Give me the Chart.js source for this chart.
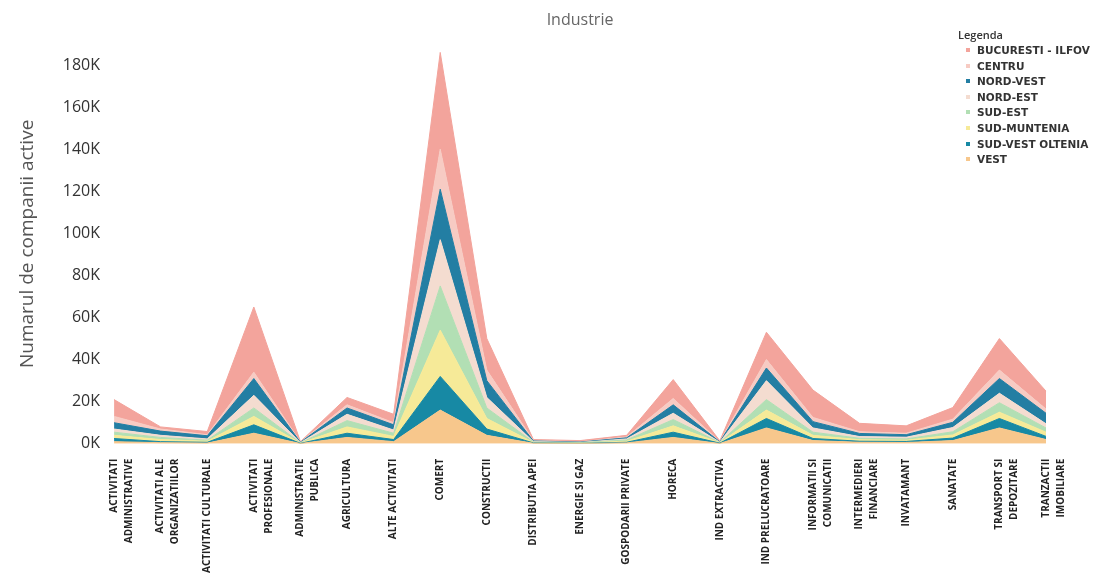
<!DOCTYPE html>
<html>
<head>
<meta charset="utf-8">
<script src="https://cdn.jsdelivr.net/npm/chart.js@4/dist/chart.umd.min.js"></script>
<style>
  body { margin: 0; background: #fff; }
  #wrap { position: relative; width: 1096px; height: 580px; }
  #legend {
    position: absolute; left: 958px; top: 26px;
    font-family: "DejaVu Sans", sans-serif; font-weight: bold; color: #333;
  }
  #legend .ttl { font-family: "Open Sans", sans-serif; font-size: 11px; font-weight: 600; height: 17px; line-height: 17px; }
  #legend .row { font-size: 10.5px; height: 15.6px; line-height: 15.6px; white-space: nowrap; }
  #legend .sw { display: inline-block; width: 4px; height: 4px; margin: 0 7px 2px 8px; vertical-align: middle; }
</style>
</head>
<body>
<div id="wrap">
  <canvas id="chart"></canvas>
  <div id="legend"></div>
</div>
<script>
const categories = [
  ['ACTIVITATI', 'ADMINISTRATIVE'],
  ['ACTIVITATI ALE', 'ORGANIZATIILOR'],
  'ACTIVITATI CULTURALE',
  ['ACTIVITATI', 'PROFESIONALE'],
  ['ADMINISTRATIE', 'PUBLICA'],
  'AGRICULTURA',
  'ALTE ACTIVITATI',
  'COMERT',
  'CONSTRUCTII',
  'DISTRIBUTIA APEI',
  'ENERGIE SI GAZ',
  'GOSPODARII PRIVATE',
  'HORECA',
  'IND EXTRACTIVA',
  'IND PRELUCRATOARE',
  ['INFORMATII SI', 'COMUNICATII'],
  ['INTERMEDIERI', 'FINANCIARE'],
  'INVATAMANT',
  'SANATATE',
  ['TRANSPORT SI', 'DEPOZITARE'],
  ['TRANZACTII', 'IMOBILIARE']
];

// stacked bottom to top
const vest        = [1000, 500, 300, 5000, 100, 3000, 1000, 16000, 4000, 200, 100, 400, 3000, 100, 7500, 1500, 700, 600, 1500, 7500, 2000];
const sudVest     = [1500, 500, 400, 4000, 100, 2000, 1000, 16000, 3000, 200, 100, 300, 2500, 200, 4500, 1000, 500, 500, 1200, 4500, 1500];
const sudMuntenia = [1500, 1000, 500, 4000, 100, 3000, 1500, 22000, 5000, 200, 150, 500, 3000, 200, 4000, 1500, 700, 600, 1500, 3000, 2000];
const sudEst      = [1500, 1000, 500, 4000, 100, 3000, 1500, 21000, 5000, 200, 150, 600, 3000, 100, 5000, 1500, 700, 600, 1500, 4500, 2000];
const nordEst     = [1500, 1000, 600, 6000, 100, 3000, 1500, 22000, 5000, 200, 100, 500, 3000, 100, 9000, 2000, 800, 800, 2000, 4500, 2000];
const nordVest    = [3000, 2000, 1500, 8000, 200, 3000, 2500, 24000, 8000, 300, 200, 500, 4000, 200, 6000, 3000, 1500, 1200, 2500, 7000, 5000];
const centru      = [3000, 1000, 500, 3000, 100, 1500, 1000, 19000, 5000, 200, 100, 400, 3000, 100, 4000, 2000, 800, 700, 1500, 4000, 2000];
const bucuresti   = [8000, 1000, 1500, 31000, 200, 3500, 4000, 46000, 15000, 500, 600, 800, 9000, 400, 13000, 13000, 4000, 3500, 5500, 15000, 8500];

const yTicks = [0, 20000, 40000, 60000, 80000, 100000, 120000, 140000, 160000, 180000];

const series = [
  { label: 'VEST', data: vest, color: '#f7c78c' },
  { label: 'SUD-VEST OLTENIA', data: sudVest, color: '#1789a4' },
  { label: 'SUD-MUNTENIA', data: sudMuntenia, color: '#f6ea98' },
  { label: 'SUD-EST', data: sudEst, color: '#b2dfb4' },
  { label: 'NORD-EST', data: nordEst, color: '#f4dcd0' },
  { label: 'NORD-VEST', data: nordVest, color: '#237ea3' },
  { label: 'CENTRU', data: centru, color: '#f7cbc3' },
  { label: 'BUCURESTI - ILFOV', data: bucuresti, color: '#f3a49c' }
];

// title centred over the plot area, not the whole canvas
const plotTitle = {
  id: 'plotTitle',
  afterDraw(c) {
    const a = c.chartArea;
    const g = c.ctx;
    g.save();
    g.font = '16px "Open Sans"';
    g.fillStyle = '#666';
    g.textAlign = 'center';
    g.textBaseline = 'middle';
    g.fillText('Industrie', (a.left + a.right) / 2, 20);
    g.restore();
  }
};

const ctx = document.getElementById('chart').getContext('2d');
const chart = new Chart(ctx, {
  type: 'line',
  data: {
    labels: categories,
    datasets: series.map((s, i) => ({
      label: s.label,
      data: s.data,
      backgroundColor: s.color,
      borderColor: s.color,
      borderWidth: 1,
      pointRadius: 0,
      tension: 0,
      fill: i === 0 ? 'origin' : '-1'
    }))
  },
  plugins: [plotTitle],
  options: {
    responsive: true,
    maintainAspectRatio: false,
    animation: false,
    layout: { padding: { left: 16, right: 50, top: 44, bottom: 0 } },
    plugins: {
      legend: { display: false },
      tooltip: { enabled: false }
    },
    scales: {
      x: {
        grid: { display: false },
        border: { display: false },
        ticks: {
          autoSkip: false,
          maxRotation: 90,
          minRotation: 90,
          padding: 7,
          color: '#222',
          font: { family: 'Open Sans', size: 10, weight: 'bold', lineHeight: 1.5 }
        }
      },
      y: {
        stacked: true,
        min: 0,
        max: 190000,
        grid: { display: false },
        border: { display: false },
        afterBuildTicks: (scale) => {
          scale.ticks = yTicks.map(v => ({ value: v }));
        },
        ticks: {
          color: '#333',
          padding: 6,
          font: { family: 'Open Sans', size: 16 },
          callback: (v) => (v / 1000) + 'K'
        },
        title: {
          display: true,
          text: 'Numarul de companii active',
          color: '#555',
          font: { family: 'Open Sans', size: 19 },
          padding: { top: 0, bottom: 18 }
        }
      }
    }
  }
});

const legend = document.getElementById('legend');
let html = '<div class="ttl">Legenda</div>';
series.slice().reverse().forEach(s => {
  html += '<div class="row"><span class="sw" style="background:' + s.color + '"></span>' + s.label + '</div>';
});
legend.innerHTML = html;
</script>
</body>
</html>
